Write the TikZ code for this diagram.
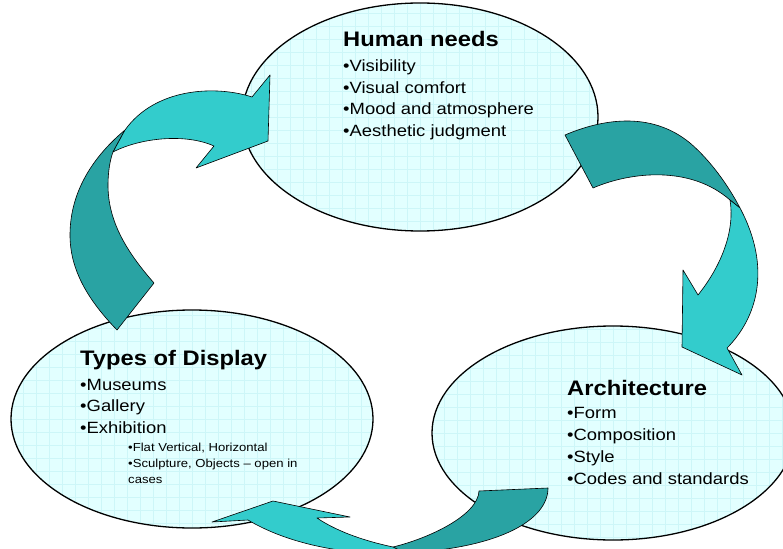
\documentclass[tikz,border=0pt]{standalone}
\usepackage{fontspec}
\setmainfont{Liberation Sans}
\usetikzlibrary{shapes.geometric}

\definecolor{bubblefill}{HTML}{E2FFFF}
\definecolor{bubblegrid}{HTML}{CDF6F8}
\definecolor{arrowlight}{HTML}{33CCCC}
\definecolor{arrowdark}{HTML}{29A3A3}

\tikzset{
  bubble/.style={ellipse,draw,line width=1.3pt,fill=bubblefill,inner sep=0pt,
    path picture={\draw[bubblegrid,line width=0.4pt] (path picture bounding box.south west) grid[step=13pt] (path picture bounding box.north east);}},
  % multi-line nodes sit on the baseline of their last line
  txt/.style={anchor=base west,inner sep=0pt,align=left,xscale=1.13,transform shape,
    font=\fontsize{16.3}{21.7}\selectfont},
  subtxt/.style={txt,font=\fontsize{11.6}{16}\selectfont},
  band/.style={draw,line width=0.6pt,line join=round},
}

\begin{document}
\begin{tikzpicture}[x=1pt,y=-1pt]
  \useasboundingbox (0,0) rectangle (783,548);
  \clip (0,0) rectangle (783,548);

  % the three ellipses
  \node[bubble,minimum width=356pt,minimum height=228pt] (human) at (420,117) {};
  \node[bubble,minimum width=362pt,minimum height=218pt] (display) at (192,419) {};
  \node[bubble,minimum width=362pt,minimum height=214pt] (arch) at (613,433) {};

  % texts
  \node[txt] (humantxt) at (343,136.5) {{\fontsize{21}{25}\selectfont\bfseries Human needs}\\[3.3pt]
    •Visibility\\•Visual comfort\\•Mood and atmosphere\\•Aesthetic judgment};
  \node[txt] (displaytxt) at (80,433.5) {{\fontsize{21}{25}\selectfont\bfseries Types of Display}\\[3.3pt]
    •Museums\\•Gallery\\•Exhibition};
  \node[subtxt] (displaysub) at (128,483.5) {•Flat Vertical, Horizontal\\•Sculpture, Objects – open in\\cases};
  \node[txt] (archtxt) at (567,484) {{\fontsize{21}{25}\selectfont\bfseries Architecture}\\[1.7pt]
    •Form\\•Composition\\•Style\\•Codes and standards};

  % left arrow, up to human needs
  \draw[band,fill=arrowdark] (117,330) .. controls (88,300) and (70,270) .. (70,235)
    .. controls (70,190) and (95,155) .. (125,130) -- (113,152)
    .. controls (110,160) and (108,172) .. (108,185)
    .. controls (108,220) and (125,250) .. (154,283) -- cycle;
  \draw[band,fill=arrowlight] (113,152) .. controls (140,138) and (185,133) .. (214,146)
    -- (196,168) -- (268,141) -- (270,75) -- (252,97)
    .. controls (215,85) and (155,88) .. (125,130) -- cycle;

  % right arrow, down to architecture
  \draw[band,fill=arrowdark] (565,135) .. controls (600,120) and (650,110) .. (690,143)
    .. controls (710,160) and (728,185) .. (740,208) -- (730,200)
    .. controls (690,165) and (630,172) .. (593,188) -- cycle;
  \draw[band,fill=arrowlight] (730,200) .. controls (735,230) and (722,265) .. (698,295)
    -- (683,270) -- (682,347) -- (742,375) -- (727,348)
    .. controls (757,318) and (772,268) .. (740,208) -- cycle;

  % bottom arrow, back to types of display
  \draw[band,fill=arrowdark] (479,491) -- (548,488) .. controls (548,520) and (500,548) .. (405,553)
    -- (393,547) .. controls (430,538) and (478,515) .. (479,491) -- cycle;
  \draw[band,fill=arrowlight] (393,547) .. controls (360,540) and (335,530) .. (317,518)
    -- (350,517) -- (273,501) -- (212,522) -- (248,520)
    .. controls (290,545) and (350,556) .. (405,553) -- cycle;
\end{tikzpicture}
\end{document}
